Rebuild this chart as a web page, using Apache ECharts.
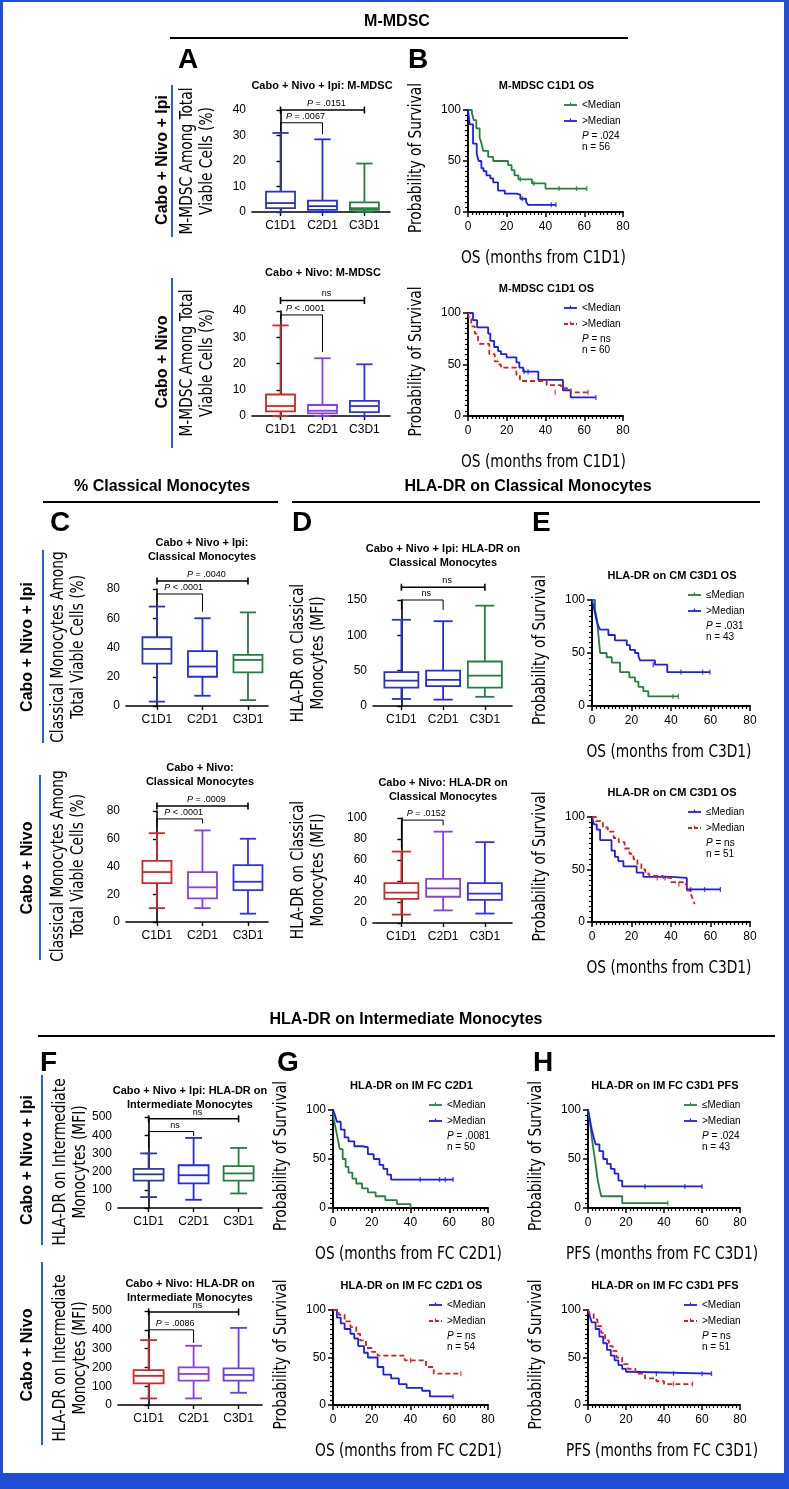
<!DOCTYPE html>
<html><head><meta charset="utf-8">
<script src="https://cdn.jsdelivr.net/npm/echarts@6/dist/echarts.min.js"></script>
<style>html,body{margin:0;padding:0;background:#fff}#c{width:789px;height:1489px}</style>
</head><body><div id="c"></div><script>
// ---------------- DATA ----------------
const catLabels = ['C1D1', 'C2D1', 'C3D1'];
// box data: [min, q1, median, q3, max]
const mmdscIpi  = [[0,1.5,3.5,8,31],[0,0.8,2.3,4.5,28.5],[0,0.8,1.5,3.8,19]];
const mmdscNivo = [[0,1.8,3.8,8.2,34.5],[0,1,2,4.2,22],[0,1.5,3.8,5.8,19.7]];
const cmIpi     = [[3,29,39,47,68],[7,20,27,37.5,60],[4,23,31.5,35,64]];
const cmNivo    = [[10,28,36,44,64],[10,17,25,36,66],[6,23,29,41,60]];
const hlaCmIpi  = [[10,26,36,48,122],[9,28,37,50,120],[13,26,43,63,142]];
const hlaCmNivo = [[8,23,29,38,68],[12,25,33,42,87],[9,22,28,38,77]];
const hlaImIpi  = [[60,150,185,215,300],[45,135,180,235,385],[80,150,190,230,330]];
const hlaImNivo = [[35,115,155,185,345],[35,130,165,200,315],[65,130,160,195,410]];
// significance brackets: [fromCat, toCat, level, leftLegEnd, rightLegEnd, type(0=span,1=legs)]
const brMmdscIpi  = [[0,2,40,40,40,0],[0,1,35,32,30.5,1]];
const lbMmdscIpi  = ['P = .0151','P = .0067'];
const brMmdscNivo = [[0,2,44,44,44,0],[0,1,38.5,37,24.4,1]];
const lbMmdscNivo = ['ns','P < .0001'];
const brCmIpi     = [[0,2,85.5,85.5,85.5,0],[0,1,76.6,72.5,64.5,1]];
const lbCmIpi     = ['P = .0040','P < .0001'];
const brCmNivo    = [[0,2,83.6,83.6,83.6,0],[0,1,74.3,68,71,1]];
const lbCmNivo    = ['P = .0009','P < .0001'];
const brHlaCmIpi  = [[0,2,168,168,168,0],[0,1,150,136,136,1]];
const lbHlaCmIpi  = ['ns','ns'];
const brHlaCmNivo = [[0,1,98,71,93,1]];
const lbHlaCmNivo = ['P = .0152'];
const brHlaImIpi  = [[0,2,490,490,490,0],[0,1,420,330,395,1]];
const lbHlaImIpi  = ['ns','ns'];
const brHlaImNivo = [[0,2,495,495,495,0],[0,1,400,360,330,1]];
const lbHlaImNivo = ['ns','P = .0086'];

// Kaplan-Meier curves: [months, % surviving]
const kmB1Low  = [[0,100],[2,97],[3,90],[4.3,82],[6,73],[7,67],[7.8,60],[10.4,54],[13,50],[20.7,46],[22.5,41],[24,36],[26,32],[33,28],[40,23],[61.3,23]];
const kmB1High = [[0,100],[0.9,86],[2.6,67],[4.5,57],[5.5,50],[6.9,43],[8,40],[9.5,36],[11.5,33],[13,29],[15.5,21],[19,18],[25,17],[27,13],[30,10],[31,7],[45.4,7]];
const kmB2Low  = [[0,100],[2.6,93],[4.7,86],[10.4,80],[11.5,73],[13.5,67],[15.5,63],[17,60],[19.9,57],[25,52],[26.5,47],[28.5,43],[36.3,35],[49,25],[53,18],[66,18]];
const kmB2High = [[0,100],[0.5,94],[1.7,87],[3.5,80],[5.2,73],[6,70],[11,60],[13.8,53],[15.5,50],[17,47],[25,40],[26.8,34],[40.6,30],[48,27],[53,23],[62,23]];
const kmE1Low  = [[0,100],[1.5,91],[2.5,82],[3.2,68],[4.1,50],[7.4,46],[10,41],[14.2,32],[18.9,27],[21.8,23],[23.5,18],[26,14],[28.5,9],[43.7,9]];
const kmE1High = [[0,100],[0.7,95],[1.5,88],[2.4,80],[3.3,75],[4.1,72],[8.3,67],[11.6,62],[17.6,57.5],[19.2,53],[21.8,50],[23.5,47],[24.3,43],[31.9,39],[38.1,32],[59.7,32]];
const kmE2Low  = [[0,100],[1,93],[2.4,88],[4.1,78],[9.9,68],[11.6,62],[13.3,58],[15.9,53],[22.6,47],[26,43],[40,42],[48,31],[65,31]];
const kmE2High = [[0,100],[2,96],[5.5,90],[8,86],[11,80],[13.5,76],[16.5,70],[19,65],[21,60],[23,55],[25,50],[27,46],[29,44],[36,42],[40,38],[46,36],[48,30],[50,27],[51,22],[52,17]];
const kmG1Low  = [[0,100],[0.5,90],[1.5,80],[2.5,70],[3.5,60],[5,50],[6.5,42],[8,36],[10,30],[12,25],[15,20],[18,16],[22,12],[27,8],[33,4],[40,0]];
const kmG1High = [[0,100],[1,95],[2,88],[4,80],[6,72],[8,68],[11,63],[15,62],[18,55],[21,50],[24,44],[26,40],[28,34],[30,29],[62,29]];
const kmG2Low  = [[0,100],[2,92],[4,86],[6,80],[9,75],[11,70],[13,62],[16,55],[18,50],[23,40],[26,32],[30,28],[34,22],[38,18],[46,15],[50,9],[62,9]];
const kmG2High = [[0,100],[3,95],[6,88],[9,82],[12,75],[14,68],[17,60],[20,56],[23,52],[35,52],[37,47],[46,47],[48,40],[52,33],[66,33]];
const kmH1Low  = [[0,100],[1,88],[2,72],[3,58],[4,45],[5,30],[6,20],[7,12],[18,5],[42,5]];
const kmH1High = [[0,100],[1,90],[2,80],[3,72],[4,65],[6,58],[8,50],[10,45],[12,40],[14,35],[16,28],[18,22],[60,22]];
const kmH2Low  = [[0,100],[1,93],[2,87],[4,80],[6,72],[8,65],[10,58],[12,52],[14,47],[16,42],[18,38],[20,35],[22,33],[65,33]];
const kmH2High = [[0,100],[1,96],[3,90],[5,83],[7,76],[9,68],[11,62],[13,57],[15,50],[18,43],[21,38],[25,33],[30,28],[36,25],[40,22],[55,22]];
// censor ticks
const cB1Low  = [[27,32],[34,28],[47,23],[56,23],[61.3,23]];
const cB1High = [[28,13],[43,7],[45.4,7]];
const cB2Low  = [[29,43],[31,43],[66,18]];
const cB2High = [[45,23],[62,23]];
const cE1Low  = [[41,9],[43.7,9]];
const cE1High = [[31,39],[45,32],[56,32],[59.7,32]];
const cE2Low  = [[37,42],[50,31],[57,31],[65,31]];
const cE2High = [[33,42],[44,36]];
const cG1High = [[45,29],[55,29],[58,29],[62,29]];
const cG2Low  = [[62,9]];
const cG2High = [[40,47],[66,33]];
const cH1Low  = [[42,5]];
const cH1High = [[30,22],[51,22],[60,22]];
const cH2Low  = [[36,33],[45,33],[60,33],[65,33]];
const cH2High = [[45,22],[55,22]];

// ---------------- STYLE ----------------
const SANS = "'Liberation Sans', Arial, Helvetica, sans-serif";
const NARROW = "'Liberation Sans Narrow','Arial Narrow','DejaVu Sans Condensed',sans-serif";
const NSCALE = 0.9;
const colsIpi  = ['#2d3aa6', '#1f2bf2', '#23803f'];
const colsNivo = ['#d42626', '#8a3cf2', '#3030f5'];
const colsNivoF = ['#d42626', '#8a3cf2', '#6a3cf2'];
const GREEN = '#25803c', BLUE = '#1c1cf5', RED = '#d42020';
const FRAME = '#1f4fd6';

const grids = [], xAxes = [], yAxes = [], series = [], graphics = [];
const axLine = {show: true, lineStyle: {color: '#000', width: 1.6}};
const axTick = {show: true, length: 4, lineStyle: {color: '#000', width: 1.4}};

function boxRender(colors, bw) {
  return function (params, api) {
    const i = api.value(0);
    const pMin = api.coord([i, api.value(1)]);
    const pQ1 = api.coord([i, api.value(2)]);
    const pMed = api.coord([i, api.value(3)]);
    const pQ3 = api.coord([i, api.value(4)]);
    const pMax = api.coord([i, api.value(5)]);
    const x = pMin[0], hw = bw / 2, cw = bw * 0.28;
    const st = {stroke: colors[i], lineWidth: 1.8, fill: null};
    return {type: 'group', children: [
      {type: 'line', shape: {x1: x, y1: pQ3[1], x2: x, y2: pMax[1]}, style: st},
      {type: 'line', shape: {x1: x, y1: pQ1[1], x2: x, y2: pMin[1]}, style: st},
      {type: 'line', shape: {x1: x - cw, y1: pMax[1], x2: x + cw, y2: pMax[1]}, style: st},
      {type: 'line', shape: {x1: x - cw, y1: pMin[1], x2: x + cw, y2: pMin[1]}, style: st},
      {type: 'rect', shape: {x: x - hw, y: pQ3[1], width: bw, height: pQ1[1] - pQ3[1]}, style: {stroke: colors[i], fill: '#fff', lineWidth: 1.8}},
      {type: 'line', shape: {x1: x - hw, y1: pMed[1], x2: x + hw, y2: pMed[1]}, style: st}
    ]};
  };
}
function pRich(t) { return t.startsWith('P') ? '{i|P}' + t.slice(1) : t; }
function bracketRender(labels) {
  return function (params, api) {
    const a = api.coord([api.value(0), api.value(2)]);
    const b = api.coord([api.value(1), api.value(2)]);
    const l = api.coord([api.value(0), api.value(3)]);
    const r = api.coord([api.value(1), api.value(4)]);
    const type = api.value(5);
    const ch = [];
    if (type === 0) {
      const s = {stroke: '#000', lineWidth: 1.6};
      ch.push({type: 'line', shape: {x1: a[0], y1: a[1], x2: b[0], y2: b[1]}, style: s});
      ch.push({type: 'line', shape: {x1: a[0], y1: a[1] - 3.5, x2: a[0], y2: a[1] + 3.5}, style: s});
      ch.push({type: 'line', shape: {x1: b[0], y1: b[1] - 3.5, x2: b[0], y2: b[1] + 3.5}, style: s});
    } else {
      ch.push({type: 'polyline', shape: {points: [[a[0], l[1]], [a[0], a[1]], [b[0], b[1]], [b[0], r[1]]]}, style: {stroke: '#000', lineWidth: 1, fill: null}});
    }
    ch.push({type: 'text', style: {x: (a[0] + b[0]) / 2 + 4, y: a[1] - 2, text: pRich(labels[params.dataIndex]), align: 'center', verticalAlign: 'bottom', fontSize: 9, fontFamily: SANS, fill: '#000', rich: {i: {fontStyle: 'italic', fontSize: 9, fontFamily: SANS}}}});
    return {type: 'group', children: ch};
  };
}

function boxPanel(o) {
  const gi = grids.length;
  grids.push({left: o.left, top: o.top, width: o.width, height: o.height});
  xAxes.push({gridIndex: gi, type: 'value', min: -0.68, max: o.xmax,
    axisLine: axLine, axisTick: Object.assign({customValues: [0, 1, 2]}, axTick),
    axisLabel: {customValues: [0, 1, 2], formatter: v => catLabels[Math.round(v)] || '', color: '#000', fontSize: 12, fontFamily: SANS, margin: 8},
    splitLine: {show: false}});
  yAxes.push({gridIndex: gi, type: 'value', min: 0, max: o.ymax, interval: o.yint,
    axisLine: axLine, axisTick: axTick,
    axisLabel: {color: '#000', fontSize: 12, fontFamily: SANS, margin: 6}, splitLine: {show: false}});
  series.push({type: 'custom', xAxisIndex: gi, yAxisIndex: gi, renderItem: boxRender(o.colors, o.bw),
    data: o.data.map((v, j) => [j].concat(v)), encode: {x: 0, y: [1, 2, 3, 4, 5]}, clip: false, silent: true, z: 3});
  series.push({type: 'custom', xAxisIndex: gi, yAxisIndex: gi, renderItem: bracketRender(o.labels),
    data: o.brackets, encode: {x: [0, 1], y: [2, 3, 4]}, clip: false, silent: true, z: 4});
}

function kmPanel(o) {
  const gi = grids.length;
  grids.push({left: o.left, top: o.top, width: o.width, height: o.height});
  xAxes.push({gridIndex: gi, type: 'value', min: 0, max: 80, interval: 20,
    axisLine: {show: true, lineStyle: {color: '#000', width: 2}},
    axisTick: {show: true, length: 5, lineStyle: {color: '#000', width: 1.5}},
    minorTick: {show: true, splitNumber: 10, length: 3, lineStyle: {color: '#000', width: 1.2}},
    axisLabel: {color: '#000', fontSize: 12, fontFamily: SANS, margin: 9}, splitLine: {show: false}});
  yAxes.push({gridIndex: gi, type: 'value', min: 0, max: 100, interval: 50,
    axisLine: {show: true, lineStyle: {color: '#000', width: 2}},
    axisTick: {show: true, length: 5, lineStyle: {color: '#000', width: 1.5}},
    minorTick: {show: true, splitNumber: 10, length: 3, lineStyle: {color: '#000', width: 1.2}},
    axisLabel: {color: '#000', fontSize: 12, fontFamily: SANS, margin: 7}, splitLine: {show: false}});
  o.curves.forEach(c => {
    series.push({type: 'line', xAxisIndex: gi, yAxisIndex: gi, data: c.data, step: 'end', symbol: 'none',
      lineStyle: {color: c.color, width: 1.8, type: c.dashed ? [5, 3] : 'solid'}, silent: true, z: 3});
    if (c.censor) series.push({type: 'scatter', xAxisIndex: gi, yAxisIndex: gi, data: c.censor, symbol: 'rect',
      symbolSize: [1.3, 5], itemStyle: {color: c.color}, silent: true, z: 4});
  });
  // legend
  const lx = o.left + 96, tx = o.left + 114, y0 = o.top - 5;
  o.curves.forEach((c, k) => {
    const y = y0 + k * 16;
    graphics.push({type: 'line', shape: {x1: lx, y1: y, x2: lx + 13, y2: y}, style: {stroke: c.color, lineWidth: 1.8, lineDash: c.dashed ? [4, 2] : null}});
    graphics.push({type: 'line', shape: {x1: lx + 6.5, y1: y - 2.5, x2: lx + 6.5, y2: y}, style: {stroke: c.color, lineWidth: 1.2}});
    graphics.push(txt(tx, y, c.name, 10, 'left'));
  });
  graphics.push({type: 'text', x: tx, y: y0 + 31, style: {text: pRich(o.p), fontSize: 10, fontFamily: SANS, fill: '#000', align: 'left', verticalAlign: 'middle', rich: {i: {fontStyle: 'italic', fontSize: 10, fontFamily: SANS}}}});
  graphics.push(txt(tx, y0 + 42, o.n, 10, 'left'));
  graphics.push(txt(o.left + o.width / 2 + 1, o.top - 24, o.title, 11, 'center', true));
  const xt = txt(o.left + o.width / 2 - 2, o.top + o.height + 47, o.xname, 17, 'center', false, NARROW);
  xt.scaleX = NSCALE;
  graphics.push(xt);
  graphics.push(rtxt(o.left - 51, o.top + o.height / 2 - 3, 'Probability of Survival', 17, NARROW, false, 20, NSCALE));
}

function txt(x, y, t, size, align, bold, fam) {
  return {type: 'text', x: x, y: y, style: {text: t, fontSize: size, fontWeight: bold ? 'bold' : 'normal', fontFamily: fam || SANS, fill: '#000', align: align || 'center', verticalAlign: 'middle', lineHeight: size + 3}};
}
function rtxt(x, y, t, size, fam, bold, lh, sx) {
  return {type: 'text', x: x, y: y, rotation: Math.PI / 2, scaleX: sx || 1, style: {text: t, fontSize: size, fontWeight: bold ? 'bold' : 'normal', fontFamily: fam || SANS, fill: '#000', align: 'center', verticalAlign: 'middle', lineHeight: lh || size + 3}};
}
function hline(x1, x2, y, w) { graphics.push({type: 'line', shape: {x1: x1, y1: y, x2: x2, y2: y}, style: {stroke: '#000', lineWidth: w || 2.2}}); }
function vblue(x, y1, y2) { graphics.push({type: 'line', shape: {x1: x, y1: y1, x2: x, y2: y2}, style: {stroke: '#2a5cf0', lineWidth: 2}}); }

// ---------------- PANELS ----------------
// A
boxPanel({left: 252, top: 110, width: 138, height: 102, xmax: 2.61, ymax: 40, yint: 10, bw: 29, colors: colsIpi, data: mmdscIpi, brackets: brMmdscIpi, labels: lbMmdscIpi});
boxPanel({left: 252, top: 311, width: 138, height: 105, xmax: 2.61, ymax: 40, yint: 10, bw: 29, colors: colsNivo, data: mmdscNivo, brackets: brMmdscNivo, labels: lbMmdscNivo});
// C
boxPanel({left: 126, top: 589, width: 142, height: 117, xmax: 2.44, ymax: 80, yint: 20, bw: 29, colors: colsIpi, data: cmIpi, brackets: brCmIpi, labels: lbCmIpi});
boxPanel({left: 126, top: 811, width: 142, height: 111, xmax: 2.44, ymax: 80, yint: 20, bw: 29, colors: colsNivo, data: cmNivo, brackets: brCmNivo, labels: lbCmNivo});
// D
boxPanel({left: 373, top: 600, width: 139, height: 106, xmax: 2.65, ymax: 150, yint: 50, bw: 34, colors: ['#2436c8', '#1f2bf2', '#23803f'], data: hlaCmIpi, brackets: brHlaCmIpi, labels: lbHlaCmIpi});
boxPanel({left: 373, top: 818, width: 139, height: 105, xmax: 2.65, ymax: 100, yint: 20, bw: 34, colors: colsNivo, data: hlaCmNivo, brackets: brHlaCmNivo, labels: lbHlaCmNivo});
// F
boxPanel({left: 118, top: 1117, width: 144, height: 91, xmax: 2.52, ymax: 500, yint: 100, bw: 30, colors: colsIpi, data: hlaImIpi, brackets: brHlaImIpi, labels: lbHlaImIpi});
boxPanel({left: 118, top: 1311, width: 144, height: 94, xmax: 2.52, ymax: 500, yint: 100, bw: 30, colors: colsNivoF, data: hlaImNivo, brackets: brHlaImNivo, labels: lbHlaImNivo});

// B
kmPanel({left: 468, top: 110, width: 155, height: 102, title: 'M-MDSC C1D1 OS', xname: 'OS (months from C1D1)', p: 'P = .024', n: 'n = 56',
  curves: [{name: '<Median', color: GREEN, data: kmB1Low, censor: cB1Low}, {name: '>Median', color: BLUE, data: kmB1High, censor: cB1High}]});
kmPanel({left: 468, top: 313, width: 155, height: 103, title: 'M-MDSC C1D1 OS', xname: 'OS (months from C1D1)', p: 'P = ns', n: 'n = 60',
  curves: [{name: '<Median', color: BLUE, data: kmB2Low, censor: cB2Low}, {name: '>Median', color: RED, dashed: true, data: kmB2High, censor: cB2High}]});
// E
kmPanel({left: 592, top: 600, width: 158, height: 106, title: 'HLA-DR on CM C3D1 OS', xname: 'OS (months from C3D1)', p: 'P = .031', n: 'n = 43',
  curves: [{name: '\u2264Median', color: GREEN, data: kmE1Low, censor: cE1Low}, {name: '>Median', color: BLUE, data: kmE1High, censor: cE1High}]});
kmPanel({left: 592, top: 817, width: 158, height: 105, title: 'HLA-DR on CM C3D1 OS', xname: 'OS (months from C3D1)', p: 'P = ns', n: 'n = 51',
  curves: [{name: '\u2264Median', color: BLUE, data: kmE2Low, censor: cE2Low}, {name: '>Median', color: RED, dashed: true, data: kmE2High, censor: cE2High}]});
// G
kmPanel({left: 333, top: 1110, width: 155, height: 98, title: 'HLA-DR on IM FC C2D1', xname: 'OS (months from FC C2D1)', p: 'P = .0081', n: 'n = 50',
  curves: [{name: '<Median', color: GREEN, data: kmG1Low}, {name: '>Median', color: BLUE, data: kmG1High, censor: cG1High}]});
kmPanel({left: 333, top: 1310, width: 155, height: 95, title: 'HLA-DR on IM FC C2D1 OS', xname: 'OS (months from FC C2D1)', p: 'P = ns', n: 'n = 54',
  curves: [{name: '<Median', color: BLUE, data: kmG2Low, censor: cG2Low}, {name: '>Median', color: RED, dashed: true, data: kmG2High, censor: cG2High}]});
// H
kmPanel({left: 588, top: 1110, width: 152, height: 98, title: 'HLA-DR on IM FC C3D1 PFS', xname: 'PFS (months from FC C3D1)', p: 'P = .024', n: 'n = 43',
  curves: [{name: '\u2264Median', color: GREEN, data: kmH1Low, censor: cH1Low}, {name: '>Median', color: BLUE, data: kmH1High, censor: cH1High}]});
kmPanel({left: 588, top: 1310, width: 152, height: 95, title: 'HLA-DR on IM FC C3D1 PFS', xname: 'PFS (months from FC C3D1)', p: 'P = ns', n: 'n = 51',
  curves: [{name: '<Median', color: BLUE, data: kmH2Low, censor: cH2Low}, {name: '>Median', color: RED, dashed: true, data: kmH2High, censor: cH2High}]});

// ---------------- ANNOTATIONS ----------------
// frame
graphics.push({type: 'rect', shape: {x: 0, y: 0, width: 789, height: 2}, style: {fill: FRAME}});
graphics.push({type: 'rect', shape: {x: 0, y: 0, width: 3, height: 1489}, style: {fill: FRAME}});
graphics.push({type: 'rect', shape: {x: 784, y: 0, width: 5, height: 1489}, style: {fill: FRAME}});
graphics.push({type: 'rect', shape: {x: 0, y: 1473, width: 789, height: 16}, style: {fill: FRAME}});
// section headers
graphics.push(txt(397, 22, 'M-MDSC', 16, 'center', true));
hline(170, 628, 38);
graphics.push(txt(162, 487, '% Classical Monocytes', 16, 'center', true));
hline(43, 278, 502);
graphics.push(txt(528, 487, 'HLA-DR on Classical Monocytes', 16, 'center', true));
hline(292, 760, 502);
graphics.push(txt(406, 1020, 'HLA-DR on Intermediate Monocytes', 16, 'center', true));
hline(38, 775, 1036);
// letters
[['A', 178, 60], ['B', 408, 60], ['C', 50, 523], ['D', 292, 523], ['E', 532, 523], ['F', 40, 1063], ['G', 277, 1063], ['H', 533, 1063]]
  .forEach(l => graphics.push(txt(l[1], l[2], l[0], 28, 'left', true)));
// row labels + blue bars
graphics.push(rtxt(163, 160, 'Cabo + Nivo + Ipi', 16, SANS, true)); vblue(172, 85, 237);
graphics.push(rtxt(163, 362, 'Cabo + Nivo', 16, SANS, true)); vblue(172, 278, 448);
graphics.push(rtxt(28, 647, 'Cabo + Nivo + Ipi', 16, SANS, true)); vblue(43, 550, 743);
graphics.push(rtxt(28, 868, 'Cabo + Nivo', 16, SANS, true)); vblue(40, 775, 960);
graphics.push(rtxt(28, 1160, 'Cabo + Nivo + Ipi', 16, SANS, true)); vblue(42, 1075, 1245);
graphics.push(rtxt(28, 1355, 'Cabo + Nivo', 16, SANS, true)); vblue(42, 1262, 1445);
// box y titles
graphics.push(rtxt(198, 161, 'M-MDSC Among Total\nViable Cells (%)', 17, NARROW, false, 20, NSCALE));
graphics.push(rtxt(198, 363, 'M-MDSC Among Total\nViable Cells (%)', 17, NARROW, false, 20, NSCALE));
graphics.push(rtxt(69, 647, 'Classical Monocytes Among\nTotal Viable Cells (%)', 17, NARROW, false, 20, NSCALE));
graphics.push(rtxt(69, 866, 'Classical Monocytes Among\nTotal Viable Cells (%)', 17, NARROW, false, 20, NSCALE));
graphics.push(rtxt(309, 653, 'HLA-DR on Classical\nMonocytes (MFI)', 17, NARROW, false, 20, NSCALE));
graphics.push(rtxt(309, 870, 'HLA-DR on Classical\nMonocytes (MFI)', 17, NARROW, false, 20, NSCALE));
graphics.push(rtxt(71, 1162, 'HLA-DR on Intermediate\nMonocytes (MFI)', 17, NARROW, false, 20, NSCALE));
graphics.push(rtxt(71, 1358, 'HLA-DR on Intermediate\nMonocytes (MFI)', 17, NARROW, false, 20, NSCALE));
// box titles
graphics.push(txt(322, 86, 'Cabo + Nivo + Ipi: M-MDSC', 11, 'center', true));
graphics.push(txt(323, 273, 'Cabo + Nivo: M-MDSC', 11, 'center', true));
graphics.push(txt(202, 550, 'Cabo + Nivo + Ipi:\nClassical Monocytes', 11, 'center', true));
graphics.push(txt(200, 775, 'Cabo + Nivo:\nClassical Monocytes', 11, 'center', true));
graphics.push(txt(443, 556, 'Cabo + Nivo + Ipi: HLA-DR on\nClassical Monocytes', 11, 'center', true));
graphics.push(txt(443, 790, 'Cabo + Nivo: HLA-DR on\nClassical Monocytes', 11, 'center', true));
graphics.push(txt(190, 1098, 'Cabo + Nivo + Ipi: HLA-DR on\nIntermediate Monocytes', 11, 'center', true));
graphics.push(txt(190, 1291, 'Cabo + Nivo: HLA-DR on\nIntermediate Monocytes', 11, 'center', true));

const chart = echarts.init(document.getElementById('c'), null, {renderer: 'canvas', width: 789, height: 1489});
chart.setOption({
  animation: false,
  backgroundColor: '#fff',
  grid: grids, xAxis: xAxes, yAxis: yAxes, series: series,
  graphic: {elements: graphics}
});
</script></body></html>
